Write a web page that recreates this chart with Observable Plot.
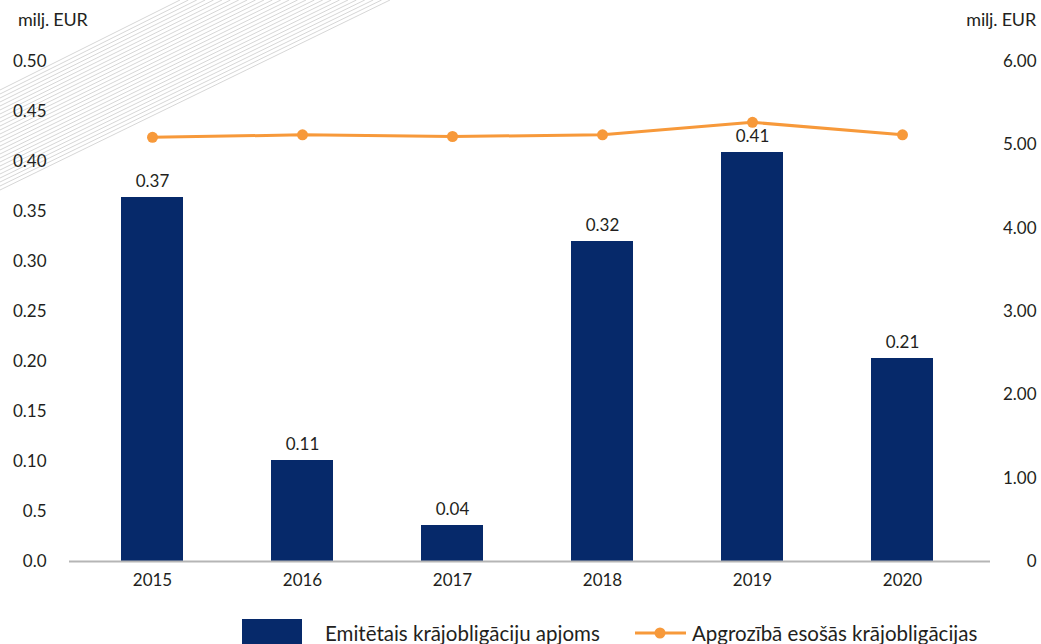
<!DOCTYPE html>
<html>
<head>
<meta charset="utf-8">
<script src="https://cdn.jsdelivr.net/npm/d3@7"></script>
<script src="https://cdn.jsdelivr.net/npm/@observablehq/plot@0.6"></script>
<style>
  body { margin: 0; background: #fff; }
  #wrap { position: relative; width: 1041px; height: 644px; overflow: hidden; font-family: Lato, "Open Sans", sans-serif; color: #231f20; }
  .unit { position: absolute; top: 8px; font-size: 18px; letter-spacing: -0.2px; }
  .leg { position: absolute; font-size: 20.5px; top: 620px; line-height: 26px; }
</style>
</head>
<body>
<div id="wrap"></div>
<script>
const years = ["2015", "2016", "2017", "2018", "2019", "2020"];
const issued = [0.364, 0.101, 0.036, 0.32, 0.409, 0.203];
const issuedLabels = ["0.37", "0.11", "0.04", "0.32", "0.41", "0.21"];
const outstanding = [5.09, 5.12, 5.10, 5.12, 5.27, 5.12];
const leftTicks = [0, 0.05, 0.10, 0.15, 0.20, 0.25, 0.30, 0.35, 0.40, 0.45, 0.50];
const leftTickLabels = ["0.0", "0.5", "0.10", "0.15", "0.20", "0.25", "0.30", "0.35", "0.40", "0.45", "0.50"];
const rightTicks = [0, 1, 2, 3, 4, 5, 6];
const rightTickLabels = ["0", "1.00", "2.00", "3.00", "4.00", "5.00", "6.00"];
const unitLabel = "milj. EUR";
const legendBar = "Emitētais krājobligāciju apjoms";
const legendLine = "Apgrozībā esošās krājobligācijas";

const NAVY = "#06296a";
const ORANGE = "#f7993a";
const RATIO = 0.5 / 6; // right axis → left scale

const rows = years.map((y, i) => ({
  year: y, issued: issued[i], label: issuedLabels[i],
  out: outstanding[i], outScaled: outstanding[i] * RATIO
}));
const rightRows = rightTicks.map((v, i) => ({ v: v * RATIO, label: rightTickLabels[i] }));

const chart = Plot.plot({
  width: 1041,
  height: 605,
  marginTop: 61,
  marginBottom: 44,
  marginLeft: 77,
  marginRight: 64,
  style: { fontFamily: "Lato, 'Open Sans', sans-serif", fontSize: "17px", color: "#231f20", background: "transparent" },
  x: { domain: years, paddingInner: 0.59, paddingOuter: 0.295, label: null },
  y: { domain: [0, 0.5], label: null },
  marks: [
    Plot.barY(rows, { x: "year", y: "issued", fill: NAVY }),
    Plot.ruleY([0], { stroke: "#b5b5b5", strokeWidth: 2, insetLeft: -8, insetRight: -13 }),
    Plot.text(rows, { x: "year", y: "issued", text: "label", dy: -16, fontSize: 17, fill: "#231f20" }),
    Plot.line(rows, { x: "year", y: "outScaled", stroke: ORANGE, strokeWidth: 3 }),
    Plot.dot(rows, { x: "year", y: "outScaled", fill: ORANGE, r: 5.5 }),
    Plot.axisX({ tickSize: 0, tickPadding: 12, fontSize: 17, label: null }),
    Plot.axisY({ anchor: "left", ticks: leftTicks, tickFormat: (d, i) => leftTickLabels[i], tickSize: 0, dx: -22, fontSize: 17, label: null }),
    Plot.text(rightRows, { y: "v", text: "label", frameAnchor: "right", textAnchor: "end", dx: 59, fontSize: 17, fill: "#231f20" })
  ]
});

// decorative hatch lines in the top-left corner (background)
const g = d3.select(chart).insert("g", ":first-child");
for (let i = 0; i < 26; i++) {
  g.append("line")
    .attr("x1", 0).attr("y1", 90 + i * 4)
    .attr("x2", 180 + i * 8.4).attr("y2", 0)
    .attr("stroke", "#cccccc").attr("stroke-width", 0.8);
}

const wrap = document.getElementById("wrap");
wrap.appendChild(chart);
chart.style.position = "absolute";
chart.style.left = "0px";
chart.style.top = "0px";

const u1 = document.createElement("div");
u1.className = "unit"; u1.style.left = "18px"; u1.textContent = unitLabel;
wrap.appendChild(u1);
const u2 = document.createElement("div");
u2.className = "unit"; u2.style.right = "5px"; u2.textContent = unitLabel;
wrap.appendChild(u2);

// legend
const sw = document.createElement("div");
Object.assign(sw.style, { position: "absolute", left: "242px", top: "619px", width: "60px", height: "30px", background: NAVY });
wrap.appendChild(sw);
const t1 = document.createElement("div");
t1.className = "leg"; t1.style.left = "325px"; t1.textContent = legendBar;
wrap.appendChild(t1);

const lsvg = d3.select(wrap).append("svg")
  .style("position", "absolute").style("left", "630px").style("top", "621px")
  .attr("width", 62).attr("height", 24);
lsvg.append("line").attr("x1", 5).attr("x2", 56).attr("y1", 12).attr("y2", 12).attr("stroke", ORANGE).attr("stroke-width", 3);
lsvg.append("circle").attr("cx", 30).attr("cy", 12).attr("r", 5.5).attr("fill", ORANGE);
const t2 = document.createElement("div");
t2.className = "leg"; t2.style.left = "692px"; t2.textContent = legendLine;
wrap.appendChild(t2);
</script>
</body>
</html>
